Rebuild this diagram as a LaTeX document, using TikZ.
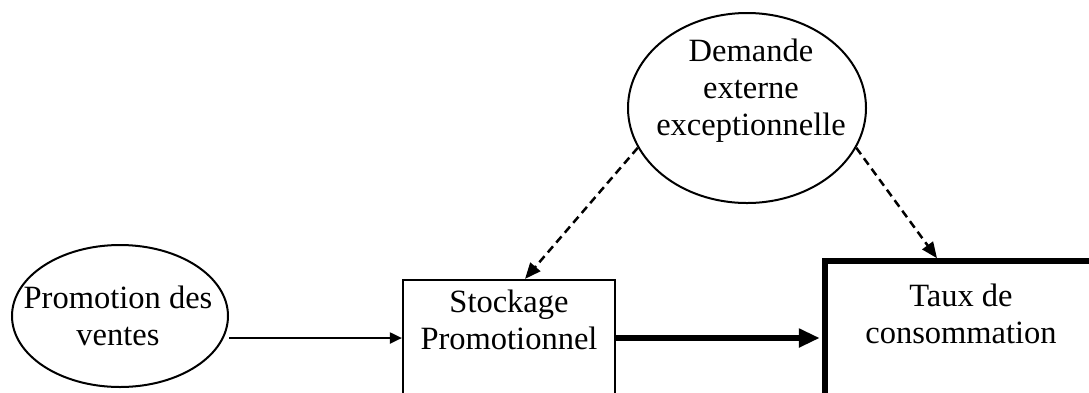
\documentclass[tikz,border=0pt]{standalone}
\usepackage{fontspec}
\setmainfont{Liberation Serif}
\usetikzlibrary{shapes,arrows.meta,positioning,calc}

\begin{document}
\begin{tikzpicture}[x=1pt,y=-1pt,font=\fontsize{32.5}{37}\selectfont,
  oval/.style={ellipse, draw, line width=2pt, inner sep=0pt},
  boite/.style={rectangle, draw, line width=2.2pt, inner sep=0pt},
  texte/.style={align=center, inner sep=0pt},
  flechefine/.style={line width=2pt, -{Triangle[length=12pt,width=11pt]}},
  flecheepaisse/.style={line width=5.5pt, -{Triangle[length=21pt,width=18pt]}, shorten >=2.5pt},
  pointille/.style={line width=2.5pt, dash pattern=on 8pt off 5pt, -{Triangle[length=16pt,width=13pt]}}]
\useasboundingbox (0,0) rectangle (1089,392);
\clip (0,0) rectangle (1089,392);

\node[oval, minimum width=216pt, minimum height=142pt] (promo) at (120,316) {};
\node[texte] (promotxt) at (118,315.5) {Promotion des\\ventes};

\node[oval, minimum width=238pt, minimum height=190pt] (demande) at (747,108) {};
\node[texte] (demandetxt) at (751,91) {Demande\\externe\\exceptionnelle};

\node[boite, minimum width=212pt, minimum height=116pt] (stock) at (509,338) {};
\node[texte] (stocktxt) at (509,320) {Stockage\\Promotionnel};

\node[boite, line width=5.5pt, minimum width=272pt, minimum height=154pt] (taux) at (961,338) {};
\node[texte] (tauxtxt) at (961,313.5) {Taux de\\consommation};

\draw[flechefine] (promo.east |- stock.west) -- (stock.west);
\draw[flecheepaisse] (stock.east) -- (taux.west);

% influences exterieures
\draw[pointille] (demande.200) -- ([xshift=16pt]stock.north);
\draw[pointille] (demande.-20) -- ([xshift=-24pt]taux.north);
\end{tikzpicture}
\end{document}
